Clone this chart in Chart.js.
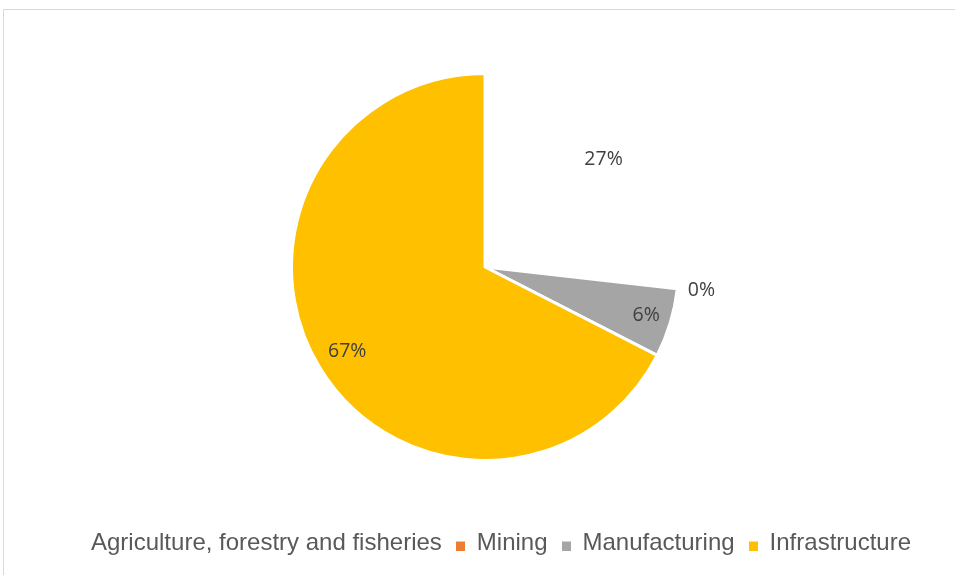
<!DOCTYPE html>
<html><head><meta charset="utf-8">
<script src="https://cdn.jsdelivr.net/npm/chart.js@4.4.1/dist/chart.umd.min.js"></script>
<style>html,body{margin:0;padding:0;background:#fff;}#wrap{width:955px;height:575px;position:relative;}canvas{display:block;}</style>
</head><body><div id="wrap"><canvas id="c" width="955" height="575"></canvas></div>
<script>
// ---- data ----
const categories = ['Agriculture, forestry and fisheries', 'Mining', 'Manufacturing', 'Infrastructure'];
const shares = [26.6, 0.2, 5.75, 67.45];
const sliceColors = ['#FFFFFF', '#ED7D31', '#A5A5A5', '#FFC000'];

// legend marker: square drawn at the bottom of a taller canvas (drops it slightly)
function markerImage(color) {
  const cv = document.createElement('canvas');
  cv.width = 9; cv.height = 15;
  const c = cv.getContext('2d');
  c.fillStyle = color;
  c.fillRect(0, 6, 9, 9);
  return cv;
}

const framePlugin = {
  id: 'frame',
  beforeDraw(chart) {
    const ctx = chart.ctx;
    ctx.save();
    ctx.strokeStyle = '#D9D9D9';
    ctx.lineWidth = 1;
    ctx.beginPath();
    ctx.moveTo(3.5, 1000); ctx.lineTo(3.5, 9.5); ctx.lineTo(1000, 9.5);
    ctx.stroke();
    ctx.restore();
  }
};

const pieLabels = {
  id: 'pieLabels',
  beforeDatasetsDraw(chart, args, opts) {
    chart.ctx.save();
    chart.ctx.translate(opts.shiftX, 0);
  },
  afterDatasetsDraw(chart, args, opts) {
    const ctx = chart.ctx;
    const meta = chart.getDatasetMeta(0);
    const data = chart.data.datasets[0].data;
    const total = data.reduce((a, b) => a + b, 0);
    ctx.font = opts.font;
    ctx.fillStyle = opts.color;
    ctx.textAlign = 'center';
    ctx.textBaseline = 'middle';
    meta.data.forEach((arc, i) => {
      const p = arc.getProps(['x', 'y', 'startAngle', 'endAngle', 'outerRadius'], true);
      const mid = (p.startAngle + p.endAngle) / 2;
      const r = p.outerRadius * opts.radial[i];
      ctx.fillText(Math.round(data[i] / total * 100) + '%', p.x + Math.cos(mid) * r, p.y + Math.sin(mid) * r);
    });
    ctx.restore();
  }
};

new Chart(document.getElementById('c'), {
  type: 'pie',
  data: {
    labels: categories,
    datasets: [{
      data: shares,
      backgroundColor: sliceColors,
      borderColor: '#FFFFFF',
      borderWidth: 3
    }]
  },
  options: {
    responsive: false,
    animation: false,
    devicePixelRatio: 1,
    radius: 193.5,
    layout: { padding: { left: 26, right: 0, top: 17, bottom: 10 } },
    plugins: {
      tooltip: { enabled: false },
      legend: {
        position: 'bottom',
        labels: {
          font: { family: '"Liberation Sans", Arial, sans-serif', size: 24 },
          color: '#595959',
          boxWidth: 9,
          boxHeight: 9,
          padding: 14,
          usePointStyle: true,
          generateLabels(chart) {
            const items = Chart.overrides.doughnut.plugins.legend.labels.generateLabels(chart);
            items.forEach(it => { it.lineWidth = 0; it.pointStyle = markerImage(it.fillStyle); });
            return items;
          }
        }
      },
      pieLabels: {
        shiftX: -5.5,
        font: '19.5px "Open Sans", "Noto Sans", sans-serif',
        color: '#404040',
        radial: [0.826, 1.125, 0.87, 0.834]
      }
    }
  },
  plugins: [framePlugin, pieLabels]
});
</script>
</body></html>
